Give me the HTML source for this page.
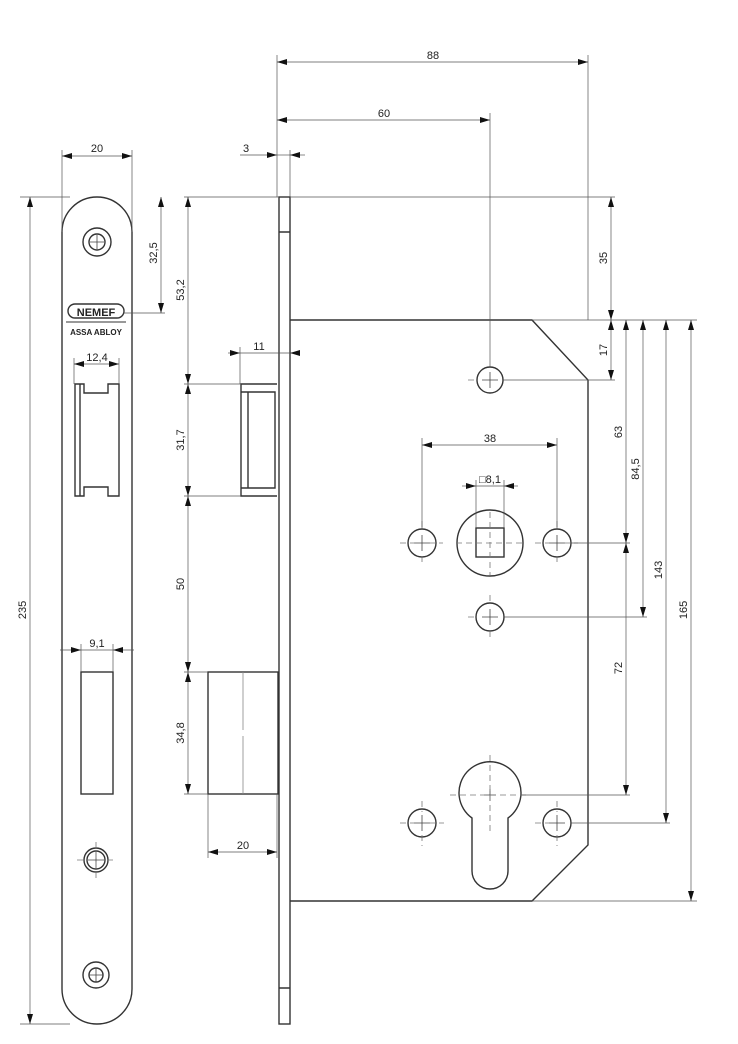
<!DOCTYPE html>
<html><head><meta charset="utf-8"><style>
html,body{margin:0;padding:0;background:#fff;}
svg{display:block;}
text{font-family:"Liberation Sans",sans-serif;font-size:11px;fill:#222;}
</style></head><body>
<svg width="738" height="1044" viewBox="0 0 738 1044" xmlns="http://www.w3.org/2000/svg">
<defs>
<marker id="a" viewBox="0 0 10 6" refX="10" refY="3" markerWidth="10" markerHeight="6" orient="auto-start-reverse" markerUnits="userSpaceOnUse">
<path d="M0,0 L10,3 L0,6 z" fill="#111"/></marker>
</defs>
<g fill="none" stroke="#333" stroke-width="1.4">
<path d="M62,232 A35,35 0 0 1 132,232 L132,989 A35,35 0 0 1 62,989 Z"/>
<circle cx="97" cy="242" r="14"/><circle cx="97" cy="242" r="8"/>
<circle cx="96" cy="860" r="12"/><circle cx="96" cy="860" r="9"/>
<circle cx="96" cy="975" r="13"/><circle cx="96" cy="975" r="7"/>
<rect x="68" y="304" width="56" height="14" rx="7"/>
<path d="M66,322 H126" stroke-width="1"/>
<path d="M75,384 H84 V393 H108 V384 H119 V496 H108 V487 H84 V496 H75 Z M80,384 V496"/>
<rect x="81" y="672" width="32" height="122"/>
<rect x="279" y="197" width="11" height="827"/>
<path d="M279,232 H290 M279,988 H290"/>
<path d="M290,320 H532 L588,380 V845 L532,901 H290"/>
<path d="M277,384 H241 V496 H277 M248,392 V488 M241,392 H275 V488 H241"/>
<rect x="208" y="672" width="70" height="122"/>
<circle cx="490" cy="380" r="13"/>
<circle cx="490" cy="543" r="33"/>
<rect x="476" y="528" width="28" height="29"/>
<circle cx="422" cy="543" r="14"/><circle cx="557" cy="543" r="14"/>
<circle cx="490" cy="617" r="14"/>
<circle cx="422" cy="823" r="14"/><circle cx="557" cy="823" r="14"/>
<path d="M472,818 A31,31 0 1 1 508,818 V871 A18,18 0 0 1 472,871 Z"/>
</g>
<g stroke="#444" stroke-width="0.8" fill="none">
<path d="M90,242 H104 M97,235 V249 M88,860 H104 M96,852 V868 M89,975 H103 M96,968 V982"/>
<path d="M482,380 H498 M490,372 V388 M414,543 H430 M422,535 V551 M549,543 H565 M557,535 V551 M482,617 H498 M490,609 V625 M414,823 H430 M422,815 V831 M549,823 H565 M557,815 V831 M484,795 H496 M490,789 V801"/>
</g>
<g stroke="#777" stroke-width="0.8" fill="none" stroke-dasharray="6,4">
<path d="M400,543 H415 M429,543 H443 M535,543 H550 M564,543 H578 M422,521 V530 M422,556 V566 M557,521 V530 M557,556 V566 M468,380 H478 M468,617 H478 M490,595 V604 M490,631 V640 M400,823 H414 M429,823 H444 M535,823 H550 M422,801 V812 M422,835 V846 M557,801 V812 M557,835 V846 M450,795 H528 M490,755 V835 M456,543 H524 M490,512 V575 M77,860 H115 M96,842 V878"/>
</g>
<path d="M243,672 V730 M243,736 V794" stroke="#888" stroke-width="0.8"/>
<g stroke="#555" stroke-width="0.7" fill="none">
<path d="M62,150 V232 M132,150 V232 M20,197 H70 M20,1024 H70 M124,313 H165 M74,358 V384 M119,358 V384 M81,644 V672 M113,644 V672"/>
<path d="M184,197 H279 M184,384 H241 M184,496 H241 M184,672 H208 M184,794 H208 M240,347 V384 M208,794 V858 M277,794 V858"/>
<path d="M277,55 V197 M588,55 V320 M490,113 V367 M290,150 V197"/>
<path d="M290,197 H615 M532,320 H697 M503,380 H615 M571,543 H630 M504,617 H647 M521,795 H630 M571,823 H670 M532,901 H697"/>
<path d="M422,438 V529 M557,438 V529 M476,480 V528 M504,480 V528"/>
<path d="M30,197 V1024" marker-start="url(#a)" marker-end="url(#a)"/>
<path d="M62,156 H132" marker-start="url(#a)" marker-end="url(#a)"/>
<path d="M161,197 V313" marker-start="url(#a)" marker-end="url(#a)"/>
<path d="M74,364 H119" marker-start="url(#a)" marker-end="url(#a)"/>
<path d="M81,650 H113"/>
<path d="M60,650 H81" marker-end="url(#a)"/><path d="M134,650 H113" marker-end="url(#a)"/>
<path d="M188,197 V384" marker-start="url(#a)" marker-end="url(#a)"/>
<path d="M188,384 V496" marker-start="url(#a)" marker-end="url(#a)"/>
<path d="M188,496 V672" marker-start="url(#a)" marker-end="url(#a)"/>
<path d="M188,672 V794" marker-start="url(#a)" marker-end="url(#a)"/>
<path d="M208,852 H277" marker-start="url(#a)" marker-end="url(#a)"/>
<path d="M228,353 H240" marker-end="url(#a)"/><path d="M240,353 H290"/><path d="M300,353 H290" marker-end="url(#a)"/>
<path d="M240,155 H277" marker-end="url(#a)"/><path d="M277,155 H290"/><path d="M305,155 H290" marker-end="url(#a)"/>
<path d="M277,62 H588" marker-start="url(#a)" marker-end="url(#a)"/>
<path d="M277,120 H490" marker-start="url(#a)" marker-end="url(#a)"/>
<path d="M422,445 H557" marker-start="url(#a)" marker-end="url(#a)"/>
<path d="M462,486 H476" marker-end="url(#a)"/><path d="M476,486 H504"/><path d="M518,486 H504" marker-end="url(#a)"/>
<path d="M611,197 V320" marker-start="url(#a)" marker-end="url(#a)"/>
<path d="M611,320 V380" marker-start="url(#a)" marker-end="url(#a)"/>
<path d="M626,320 V543" marker-start="url(#a)" marker-end="url(#a)"/>
<path d="M626,543 V795" marker-start="url(#a)" marker-end="url(#a)"/>
<path d="M643,320 V617" marker-start="url(#a)" marker-end="url(#a)"/>
<path d="M666,320 V823" marker-start="url(#a)" marker-end="url(#a)"/>
<path d="M691,320 V901" marker-start="url(#a)" marker-end="url(#a)"/>
</g>
<text x="96" y="316" text-anchor="middle" style="font-size:11px;font-weight:bold">NEMEF</text>
<text x="96" y="335" text-anchor="middle" style="font-size:8px;font-weight:bold">ASSA ABLOY</text>
<text x="97" y="152" text-anchor="middle">20</text>
<text x="97" y="361" text-anchor="middle">12,4</text>
<text x="97" y="647" text-anchor="middle">9,1</text>
<text x="246" y="152" text-anchor="middle">3</text>
<text x="259" y="350" text-anchor="middle">11</text>
<text x="243" y="849" text-anchor="middle">20</text>
<text x="433" y="59" text-anchor="middle">88</text>
<text x="384" y="117" text-anchor="middle">60</text>
<text x="490" y="442" text-anchor="middle">38</text>
<text x="490" y="483" text-anchor="middle">□8,1</text>
<g text-anchor="middle">
<text transform="translate(26,610) rotate(-90)">235</text>
<text transform="translate(157,253) rotate(-90)">32,5</text>
<text transform="translate(184,290) rotate(-90)">53,2</text>
<text transform="translate(184,440) rotate(-90)">31,7</text>
<text transform="translate(184,584) rotate(-90)">50</text>
<text transform="translate(184,733) rotate(-90)">34,8</text>
<text transform="translate(607,258) rotate(-90)">35</text>
<text transform="translate(607,350) rotate(-90)">17</text>
<text transform="translate(622,432) rotate(-90)">63</text>
<text transform="translate(639,469) rotate(-90)">84,5</text>
<text transform="translate(662,570) rotate(-90)">143</text>
<text transform="translate(687,610) rotate(-90)">165</text>
<text transform="translate(622,668) rotate(-90)">72</text>
</g>
</svg>
</body></html>
